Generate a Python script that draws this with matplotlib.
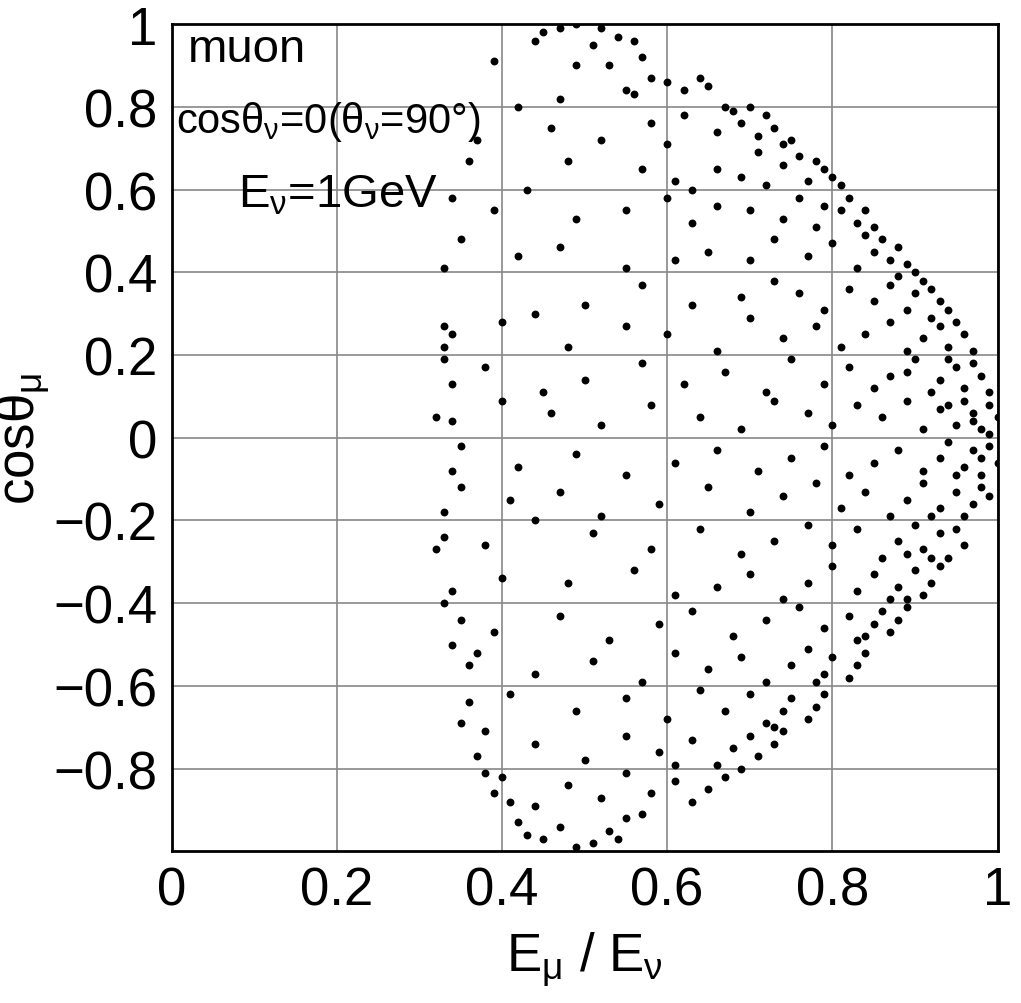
import matplotlib
matplotlib.use("Agg")
import matplotlib.pyplot as plt
import numpy as np

plt.rcParams['font.family'] = ['Liberation Sans', 'DejaVu Sans']
plt.rcParams['mathtext.fontset'] = 'custom'
plt.rcParams['mathtext.rm'] = 'Liberation Sans'
plt.rcParams['mathtext.it'] = 'Liberation Sans'

# (E_mu/E_nu, cos theta_mu), band by band
points = [
    (0.45, 0.98), (0.47, 0.99), (0.49, 1.0), (0.52, 0.99), (0.54, 0.97), (0.56, 0.96), (0.51, 0.95), (0.44, 0.96),
    (0.39, 0.91), (0.42, 0.80), (0.49, 0.90), (0.55, 0.84), (0.58, 0.87), (0.60, 0.86), (0.62, 0.84), (0.64, 0.87),
    (0.65, 0.85), (0.67, 0.80), (0.56, 0.83), (0.47, 0.82), (0.53, 0.90), (0.57, 0.92),
    (0.68, 0.79), (0.70, 0.80), (0.72, 0.78), (0.73, 0.75), (0.71, 0.73), (0.69, 0.76), (0.66, 0.74), (0.62, 0.78),
    (0.58, 0.76), (0.52, 0.72), (0.46, 0.75), (0.37, 0.72), (0.74, 0.71), (0.75, 0.72), (0.60, 0.71),
    (0.76, 0.68), (0.78, 0.67), (0.79, 0.65), (0.77, 0.62), (0.80, 0.63), (0.74, 0.66), (0.71, 0.69), (0.66, 0.65),
    (0.63, 0.60), (0.61, 0.62), (0.57, 0.65), (0.48, 0.67), (0.43, 0.60), (0.36, 0.67), (0.81, 0.61), (0.72, 0.61),
    (0.69, 0.63),
    (0.82, 0.58), (0.84, 0.55), (0.83, 0.52), (0.81, 0.55), (0.79, 0.56), (0.76, 0.58), (0.74, 0.53), (0.70, 0.55),
    (0.66, 0.56), (0.63, 0.52), (0.55, 0.55), (0.49, 0.53), (0.39, 0.55), (0.34, 0.58), (0.85, 0.51), (0.78, 0.51),
    (0.60, 0.58),
    (0.86, 0.48), (0.88, 0.46), (0.87, 0.43), (0.89, 0.42), (0.85, 0.45), (0.83, 0.41), (0.80, 0.47), (0.77, 0.44),
    (0.73, 0.48), (0.70, 0.43), (0.65, 0.45), (0.61, 0.43), (0.55, 0.41), (0.47, 0.46), (0.42, 0.44), (0.35, 0.48),
    (0.90, 0.40), (0.84, 0.49),
    (0.91, 0.38), (0.92, 0.36), (0.93, 0.33), (0.90, 0.35), (0.89, 0.31), (0.87, 0.37), (0.85, 0.33), (0.82, 0.36),
    (0.79, 0.31), (0.76, 0.35), (0.73, 0.38), (0.69, 0.34), (0.63, 0.32), (0.57, 0.37), (0.50, 0.32), (0.44, 0.30),
    (0.33, 0.41), (0.94, 0.31), (0.88, 0.39),
    (0.95, 0.28), (0.96, 0.25), (0.94, 0.22), (0.93, 0.27), (0.91, 0.24), (0.89, 0.21), (0.87, 0.28), (0.84, 0.25),
    (0.81, 0.22), (0.78, 0.27), (0.74, 0.24), (0.70, 0.29), (0.66, 0.21), (0.60, 0.25), (0.55, 0.27), (0.48, 0.22),
    (0.40, 0.28), (0.33, 0.27), (0.33, 0.22), (0.34, 0.25), (0.97, 0.21), (0.92, 0.29),
    (0.97, 0.18), (0.98, 0.15), (0.96, 0.12), (0.95, 0.17), (0.93, 0.14), (0.92, 0.11), (0.90, 0.19), (0.87, 0.15),
    (0.85, 0.12), (0.82, 0.17), (0.79, 0.13), (0.75, 0.19), (0.72, 0.11), (0.67, 0.16), (0.62, 0.13), (0.57, 0.18),
    (0.50, 0.14), (0.45, 0.11), (0.38, 0.17), (0.33, 0.19), (0.34, 0.13), (0.99, 0.11), (0.94, 0.19), (0.89, 0.16),
    (0.99, 0.08), (1.00, 0.05), (0.98, 0.02), (0.97, 0.06), (0.99, 0.01), (0.96, 0.09), (0.95, 0.03), (0.93, 0.07),
    (0.91, 0.02), (0.89, 0.09), (0.86, 0.05), (0.83, 0.08), (0.80, 0.03), (0.77, 0.06), (0.73, 0.09), (0.69, 0.02),
    (0.64, 0.05), (0.58, 0.08), (0.52, 0.03), (0.46, 0.06), (0.40, 0.09), (0.34, 0.04), (0.32, 0.05), (0.97, 0.04),
    (0.94, 0.08),
    (0.99, -0.02), (1.00, -0.06), (0.98, -0.09), (0.97, -0.03), (0.96, -0.07), (0.94, -0.01), (0.93, -0.05),
    (0.91, -0.08), (0.88, -0.03), (0.85, -0.06), (0.82, -0.09), (0.79, -0.02), (0.75, -0.05), (0.71, -0.08),
    (0.66, -0.03), (0.61, -0.06), (0.55, -0.09), (0.49, -0.04), (0.42, -0.07), (0.35, -0.02), (0.34, -0.08),
    (0.98, -0.05), (0.95, -0.09),
    (0.98, -0.12), (0.97, -0.16), (0.96, -0.19), (0.95, -0.13), (0.93, -0.17), (0.91, -0.11), (0.89, -0.15),
    (0.87, -0.19), (0.84, -0.13), (0.81, -0.17), (0.78, -0.11), (0.74, -0.14), (0.70, -0.18), (0.65, -0.12),
    (0.59, -0.16), (0.52, -0.19), (0.47, -0.13), (0.41, -0.15), (0.35, -0.12), (0.33, -0.18), (0.99, -0.14),
    (0.92, -0.19),
    (0.95, -0.22), (0.96, -0.26), (0.94, -0.29), (0.93, -0.23), (0.91, -0.27), (0.90, -0.21), (0.88, -0.25),
    (0.86, -0.29), (0.83, -0.22), (0.80, -0.26), (0.77, -0.21), (0.73, -0.25), (0.69, -0.28), (0.64, -0.22),
    (0.58, -0.27), (0.51, -0.23), (0.44, -0.20), (0.38, -0.26), (0.33, -0.24), (0.32, -0.27), (0.92, -0.29),
    (0.89, -0.28),
    (0.93, -0.31), (0.92, -0.35), (0.91, -0.38), (0.90, -0.32), (0.88, -0.36), (0.87, -0.39), (0.85, -0.33),
    (0.83, -0.37), (0.80, -0.31), (0.77, -0.35), (0.74, -0.39), (0.70, -0.33), (0.66, -0.36), (0.61, -0.38),
    (0.56, -0.32), (0.48, -0.35), (0.40, -0.34), (0.34, -0.37), (0.33, -0.40), (0.89, -0.39),
    (0.89, -0.41), (0.88, -0.44), (0.87, -0.47), (0.86, -0.42), (0.85, -0.45), (0.84, -0.48), (0.82, -0.43),
    (0.79, -0.46), (0.76, -0.41), (0.72, -0.44), (0.68, -0.48), (0.63, -0.42), (0.59, -0.45), (0.53, -0.49),
    (0.47, -0.43), (0.39, -0.47), (0.35, -0.44), (0.34, -0.50), (0.83, -0.49),
    (0.84, -0.52), (0.83, -0.55), (0.82, -0.58), (0.80, -0.53), (0.79, -0.57), (0.77, -0.51), (0.75, -0.55),
    (0.72, -0.59), (0.69, -0.53), (0.65, -0.56), (0.61, -0.52), (0.57, -0.59), (0.51, -0.54), (0.44, -0.57),
    (0.37, -0.52), (0.36, -0.55), (0.78, -0.59),
    (0.79, -0.62), (0.78, -0.65), (0.77, -0.68), (0.75, -0.63), (0.74, -0.66), (0.72, -0.69), (0.70, -0.62),
    (0.67, -0.66), (0.64, -0.61), (0.60, -0.68), (0.55, -0.63), (0.49, -0.66), (0.41, -0.62), (0.36, -0.64),
    (0.35, -0.69), (0.73, -0.70),
    (0.74, -0.71), (0.73, -0.74), (0.71, -0.77), (0.70, -0.72), (0.68, -0.75), (0.66, -0.79), (0.63, -0.73),
    (0.59, -0.76), (0.55, -0.72), (0.50, -0.78), (0.44, -0.74), (0.38, -0.71), (0.37, -0.77), (0.69, -0.80),
    (0.61, -0.79),
    (0.67, -0.82), (0.65, -0.85), (0.63, -0.88), (0.61, -0.83), (0.58, -0.86), (0.55, -0.81), (0.52, -0.87),
    (0.48, -0.84), (0.44, -0.89), (0.40, -0.82), (0.38, -0.81), (0.39, -0.86), (0.41, -0.88),
    (0.55, -0.92), (0.53, -0.95), (0.51, -0.98), (0.49, -0.99), (0.47, -0.94), (0.45, -0.97), (0.43, -0.96),
    (0.42, -0.93), (0.57, -0.91), (0.54, -0.97),
]
x_ratio = [p[0] for p in points]
cos_mu = [p[1] for p in points]

xticks = [0, 0.2, 0.4, 0.6, 0.8, 1]
yticks = [-0.8, -0.6, -0.4, -0.2, 0, 0.2, 0.4, 0.6, 0.8, 1]

fig = plt.figure(figsize=(10.21, 10.04), dpi=100)
ax = fig.add_axes([0.168, 0.151, 0.809, 0.824])

ax.scatter(x_ratio, cos_mu, s=32, c='black', linewidths=0, zorder=3)

ax.set_xlim(0, 1)
ax.set_ylim(-1, 1)
ax.set_xticks(xticks)
ax.set_yticks(yticks)
ax.set_xticklabels(['0', '0.2', '0.4', '0.6', '0.8', '1'])
ax.set_yticklabels(['\u22120.8', '\u22120.6', '\u22120.4', '\u22120.2', '0', '0.2', '0.4', '0.6', '0.8', '1'])
ax.tick_params(direction='in', labelsize=38, length=0, pad=10)
ax.grid(True, color='#888888', linewidth=1.2)
for s in ax.spines.values():
    s.set_linewidth(2)

ax.set_xlabel(r'E$_{\mu}$ / E$_{\nu}$', fontsize=38, labelpad=10)
ax.set_ylabel(r'cos$\theta_{\mu}$', fontsize=38, labelpad=2)

ax.text(0.02, 0.91, 'muon', fontsize=34, transform=ax.transData)
ax.text(0.005, 0.74, r'cos$\theta_{\nu}$=0($\theta_{\nu}$=90°)', fontsize=30, transform=ax.transData)
ax.text(0.08, 0.56, r'E$_{\nu}$=1GeV', fontsize=34, transform=ax.transData)

plt.savefig('out.png', dpi=100)
